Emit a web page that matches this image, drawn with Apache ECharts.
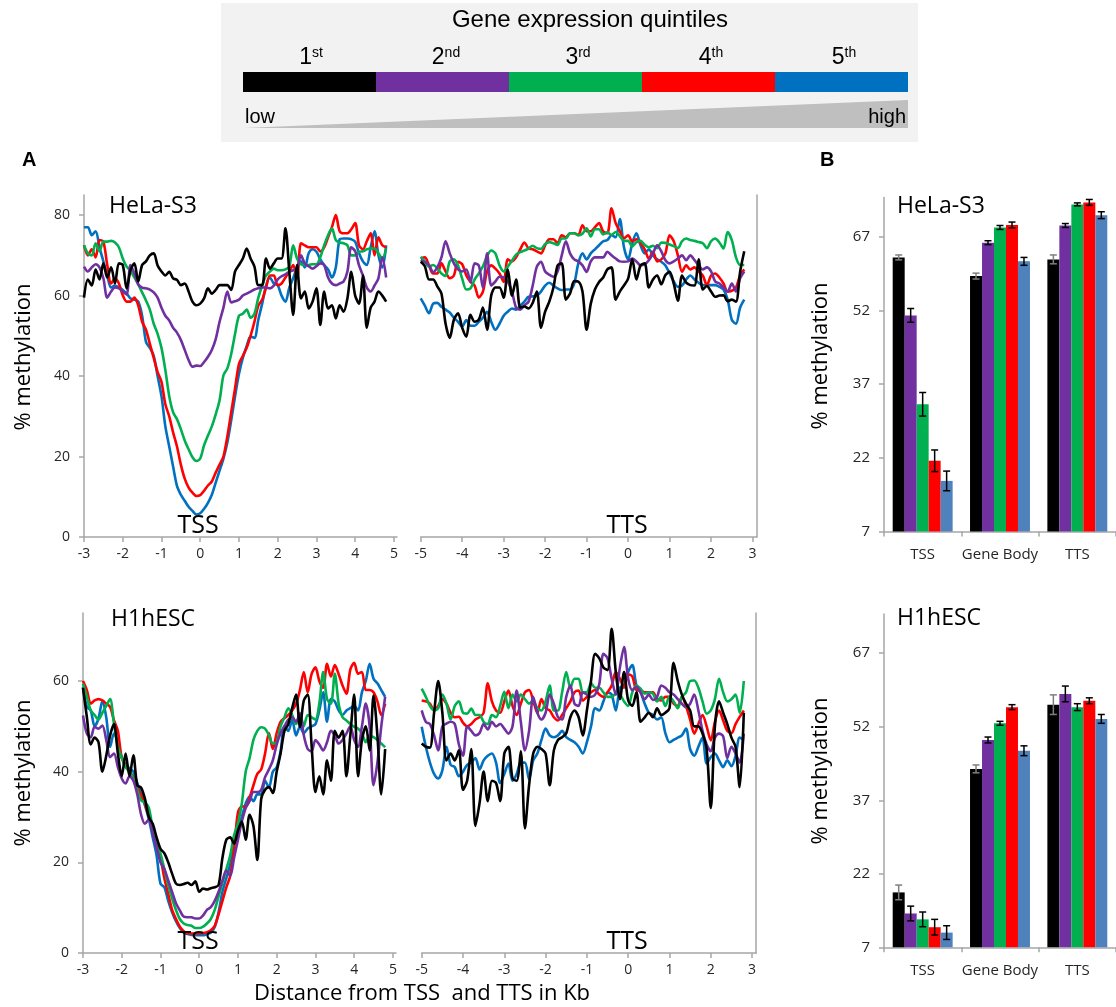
<!DOCTYPE html>
<html>
<head>
<meta charset="utf-8">
<script src="https://cdn.jsdelivr.net/npm/echarts@6/dist/echarts.min.js"></script>
<style>
  html, body { margin: 0; padding: 0; background: #fff; }
  #chart { width: 1116px; height: 1007px; }
</style>
</head>
<body>
<div id="chart"></div>
<script>
// quintile colours (1st .. 5th)
const lineColors = ['#000000', '#7030A0', '#00B050', '#FF0000', '#0070C0'];
const barColors = ['#000000', '#7030A0', '#00B050', '#FF0000', '#4F81BD'];

// sampling positions (kb), 0.1 kb apart
const tssX = [];
for (let i = 0; i < 79; i++) tssX.push(Math.round((-3 + i * 0.1) * 10) / 10);
const ttsX = [];
for (let i = 0; i < 79; i++) ttsX.push(Math.round((-5 + i * 0.1) * 10) / 10);

const tssTicks = [-3, -2, -1, 0, 1, 2, 3, 4, 5];
const ttsTicks = [-5, -4, -3, -2, -1, 0, 1, 2, 3];
const helaTicks = [0, 20, 40, 60, 80];
const h1Ticks = [0, 20, 40, 60];
const barTicks = [7, 22, 37, 52, 67];
const barCategories = ['TSS', 'Gene Body', 'TTS'];

// ---- HeLa-S3, around TSS ----
const helaTssBlack = [59.5,64,62.5,66.5,64,68,64.5,67,63,68, 67.6,61.8,66.3,68,63.5,67.6,68.5,70,70.5,67.5, 66,65,65.9,64.3,63.9,62.6,63,61,58.5,57.6, 58,59.3,61.8,60.5,61.4,62.6,62.6,62.6,61.4,66, 67.6,69.2,71.7,69.2,67.2,62.6,62.6,69.2,66.7,68, 69.2,69.2,76.7,65.9,55.2,67.6,59.3,61,56.8,58.5, 61.8,52.7,61,56.8,57.6,54.3,57.6,56,59.3,65.9, 60,58,65,52,57,58.5,61,60,58.5];
const helaTssPurple = [67.2,66,67,67.8,67,64.3,59.5,61,62,61.8, 61,60.3,67.6,65.5,62.8,62,61.8,61.5,60.8,59.5, 57,55,53.8,52,50.8,49,46.5,44,42.3,42.6, 42.5,43.5,44.8,46.5,49.2,53.5,57,61,58.3,58.6, 59,60,60.5,61,61.5,61.8,62,62,61.8,62.5, 64,64.8,65.3,65.9,66.3,66.7,70,68,67.3,66.7, 67.3,68,67.6,64.5,63,62.6,63,63.5,66,72, 71,67.5,65,62,61,62.5,64.3,69.5,64.5];
const helaTssGreen = [72.5,70.5,70,73,71,73.4,73.4,73.6,73.2,72, 69.2,67.2,66.2,64.5,62.8,60.8,58.8,56.5,53,50.5, 47,41.5,35,31,29.3,26.8,24,21.8,19.8,18.9, 19.5,22.8,25.2,27.5,30.5,34,40.2,41.9,45.5,50.5, 55,55.5,56.5,54.5,55.5,59.5,62.5,65,66,66.7, 66.3,66.3,66.5,67.2,72.5,69.2,67.8,67.6,67.6,67.8, 67.8,69.5,72.5,75,76.7,73.8,73.2,73,72.5,70, 70,70.9,71,71.5,71.7,71.7,70.5,69.2,71.7];
const helaTssRed = [72.5,70,71.5,69.5,73.8,73.4,67.6,63,64.3,63, 60.1,58.5,58.5,59.5,57.6,53.5,51.5,48,44.5,41, 38.6,33,30,26,22.5,18,14.5,12.3,11,10.2, 10.4,11.5,12.8,13.8,16,18,20,25,31,37, 43,45,47,50,53.5,57.5,59,62,65,65, 62.6,63,64.5,66,67.6,64.3,73,72.5,72,72, 72,71,72,74.5,77,80,76,75.5,75.5,76.5, 78,72.5,71.5,73.5,75.5,70,74.5,72.5,72];
const helaTssBlue = [77,77,75,76,72,68.5,65,62,62.5,62, 61.4,60.5,59.3,59,58.5,55,48.5,47,45,40, 35,27.5,22.5,17.5,12.7,10.5,9,7.5,6.5,5.6, 5.9,7,8.5,10.5,13.5,16.5,19.5,23.5,29,35, 40.5,44.5,47.5,49.8,49.5,54,58,62.5,64.5,63, 62.6,60,58.5,62,64.3,67,68.5,67,70.5,71.5, 70.9,69,67.6,66.5,64.5,67,74,74.2,74.2,74, 73.4,70.5,68.5,67.6,72,76,70,67,72.5];

// ---- HeLa-S3, around TTS ----
const helaTtsBlack = [68.4,67.3,64,64,62.3,60.5,53,49.5,54,55.6, 52,49.8,55.2,53.5,54,57,51.5,60,62,62, 59.5,66.5,60,64,57,57.3,56.8,58.2,61,52, 56,58.5,62,67.5,68,59,60.5,63.6,63.5,61, 51.5,58,61.5,63.4,64.5,66.5,67,59,61,62.5, 64.2,69,64,67.5,68,62,64,65,62.8,65.1, 65.9,63,58.7,65,63.2,62.6,62.5,69,61.5,62.4, 61,59.7,60,60.1,58.6,59,58.5,65.9,71];
const helaTtsPurple = [68.8,68.3,67.6,65.8,67,69.5,73.5,70.5,68,66.5, 66,66.5,63.4,68,67.5,62,70.5,62.5,63.5,64.7, 64.5,63.5,61,57,56.5,57.6,58.5,62.5,67.2,68.4, 66,65.2,64.7,66,70,73.5,70.5,69,68.5,67.5, 65.9,68.5,69.5,69.5,69.5,70.9,70,69.2,68.5,68.4, 68.5,69.2,68.5,67.5,67.8,68.8,70.5,72.5,71,68.8, 68,68.5,69.2,70,68.8,70,68.8,67.5,66.5,67, 66,63.5,63,62,61,63,61,64.3,66];
const helaTtsGreen = [69.6,68.5,67.2,67.6,66.8,65.5,64.9,68.5,69,67.5, 64.2,61.5,61.8,64,65.5,67.3,69.8,71.2,70.5,67.5, 66,67.2,68.7,70.2,70.8,71.2,71.7,72.4,71.8,71.6, 72.8,73.3,73,72.6,74.2,74.2,75.5,75.5,75,75.4, 76.7,74.7,76.5,76.5,75.2,75.7,75.1,75.8,74.8,73.6, 73.6,72.2,73.3,73.6,72.6,72,72.4,71.8,73.2,73.1, 72.7,72.3,71.8,73.5,74.2,73.8,73.6,73.3,73,71.8, 73.5,74.2,73.2,71.7,75.8,73.8,69.5,67.6,67.6];
const helaTtsRed = [69.2,69.5,67.5,65.5,65.5,68,66,64.3,65,68.4, 67.8,65,63.4,62.5,59.5,61,66,67.5,66.7,65.5, 63.4,69,68.5,69.5,71.5,73.2,71.7,71.5,71,70.5, 72.5,74,74,73,75,74.5,75.5,75.5,75,77.5, 76,76,77,78,75.9,75.5,81.7,78,76,74.2, 75,73.5,74,73,71.5,69.2,70.9,68.5,69,70.5, 75,73.5,70,65.9,67.5,66.5,67,66,65,62.6, 65,65.5,64.5,63,61,61.2,62,65,66.5];
const helaTtsBlue = [59.3,57.5,55.6,58,58.2,57.2,56.5,55.8,54.5,53.5, 52.3,53.9,52.5,52.5,53.5,54.5,56,53.5,51.5,53, 55,56,56.8,56.5,57.5,58.5,59.7,59.8,60,61, 62.5,63.2,62.5,61.8,61.4,61.5,61.5,63,68,70.5, 69,70.5,71.5,72.5,73.5,73.8,75,74.5,79,72, 69,73,75.5,72.5,70.5,71.5,70,69,68.4,67.5, 65.5,63.5,62.2,62.5,64,65,64,63.2,62.6,62.6, 62.6,62.6,62.2,61.5,59,54,53,57,59];

// ---- H1hESC, around TSS ----
const h1TssBlack = [58.5,52,46,47.5,46.5,40,43.5,48,50.5,44, 39,44,39,43.6,37,36.5,34,30,28.5,25.5, 23,22,20,17.5,15.3,15,15.2,15.5,15,15.8, 13.5,14.2,14,14.3,14.5,15,21,25,25.5,24.1, 27,29,25,30.5,28,20.5,34,36,36.6,35.3, 40,44,49,50.5,54,57,49.9,55.7,57,46, 35.5,39,35,42.5,38,49,47.5,49,39,48, 57,39,47,50,44.7,56.8,48,35,45];
const h1TssPurple = [52.4,48.4,47.6,49.9,49.5,50.2,47,43.2,44,41, 38.5,37.4,39,38,35,30.5,28.5,29.5,26.3,23.4, 20,18.5,16,13.5,11,9.4,8,7.9,7.9,7.6, 7.6,8.3,9.5,10.1,11.5,13.5,16,18.2,17,21, 25,29,32,33.5,35.5,35.5,36,38.8,40.5,42.5, 46,48.5,50,51.5,52,51,52.8,48,45,44.5, 47,46,44.7,46.5,49,48,46.2,47,48.4,50, 47,45.5,50,55,50,37,42,50,56.5];
const h1TssGreen = [59.4,56.5,53.5,52.5,51.5,53,54.5,56,50.5,45.5, 43,41,40,38.5,36,33.7,33.2,32,27.5,24.5, 22,18.5,15,12,9.5,7.5,6.5,6.2,6,5.5, 5.5,5.8,6.5,7.5,9.5,12.5,15.5,18.5,21.5,26, 28.5,33,40,43,47,49,49.8,49.5,48,46.2, 46.5,50,52,54,52.5,50.5,52.8,50,52.5,52, 51.5,55,62,56,55,61.6,55,52,51.3,50.5, 49.9,49.5,48.5,46.5,48,47.6,47,46.2,45.4];
const h1TssRed = [60,58,55,55.7,56,55.7,55,54.3,51.3,49, 43,41.5,40,38.8,36.5,34.8,32.9,30,27.5,23.5, 21,16.5,13,9.5,7.5,5.8,4.8,4.3,4.3,4.3, 4.3,4.4,4.6,5,6,8.5,11.5,14.5,17,23, 31,32.3,32.3,34.3,37,39.5,40.5,44,48.5,45, 48.5,51,51.8,52.5,53.5,55,58,62,57.5,61.5, 63,60,58.5,63.8,61,63.5,61.5,59,57.2,62.5, 64,61.6,62,58,58,57.5,55.5,52.5,55];
const h1TssBlue = [58.7,54.3,53.5,50,51.7,55.5,52,45.5,48.4,46.5, 43.2,41.5,40.8,40,37.5,35.1,32.5,29.5,25.5,21.5, 15.3,14.5,11.5,9,7,5.5,4.5,4.2,4,3.9, 3.9,3.9,4.2,4.5,5.7,9,13.5,16.5,19.5,24, 27.5,30,33,34.5,33.5,35,35,38,36.5,40, 41,44.5,50,49,51.5,48,49.9,48.5,49.5,50, 50.5,53.5,57.5,51,56,55.5,53.5,52.5,53.5,54, 54.5,53.5,57.5,60,63.8,60.5,59.5,58,56.5];

// ---- H1hESC, around TTS ----
const h1TtsBlack = [46.2,45.5,45.3,53,60,53,42.5,44,42.5,44.7, 36,38,45,28,33,40,33.5,38,37.5,33.5, 44,45.5,38.5,38,44.5,27.5,37,44,45.5,45, 44,37,44.7,47,47.6,48.5,52,53.5,52,48, 53.5,60,66,65,63,62.4,71.5,62,56,62, 55.7,54.5,57.5,51,52,53,52,54,52.5,53, 54,64,60,57,55,53.5,50,50,48.4,45, 32,50,55.5,53,50.5,47.5,45.5,36.6,53];
const h1TtsPurple = [53.5,51,50.5,48,44.7,50,50.6,51,50.5,46, 43.5,50,49,48,48.5,50.5,49.3,51,50,50.5, 49.5,48.4,50,57.9,51,44.7,49,56.5,53,51.5, 53,57,55,52,51.5,56.5,59,55,54.5,57.5, 57,56.5,57,59.3,66,65,60.5,57,63,67.5, 60.5,58,58.7,57.5,56,57,55.8,56.5,59,58.5, 57.5,57,56,55,54.2,55,57,53.5,49,46, 44.5,47.5,48.4,47.8,43,45.5,44,42,48.4];
const h1TtsGreen = [58.3,56.5,54.5,53.5,54,57,55,51.5,54.5,55.5, 53,52.8,53.9,52.5,52.5,51,50.5,52.5,52,54.5, 57.6,54,57,55.5,57,56,55,55.7,54,53.5, 55.5,59,53.5,53.5,57.5,62,58.5,60.5,60.5,57.5, 57.5,59.5,58.5,58.5,57.5,56.5,56.5,57.2,57,55.5, 54.5,57.5,59,58.3,57.2,57.5,57.2,55.5,56.5,54.5, 56.5,55.5,54,56.5,57.5,60,60.1,58.5,55.5,52.8, 53.5,56,60.5,57.5,55.5,56,57,53,60];
const h1TtsRed = [55.7,55.5,55,53.5,54.5,56,55,53,52,52.1, 50.8,50,50.5,51.5,52,53,59.5,55.5,53.5,53, 55.5,57.9,54.5,52.5,55,57.5,58,55.7,53,56, 54,53.5,52,51.3,52.5,54,55.5,57.5,57.9,55.7, 56.5,57.5,58,57,56.5,57.5,59,62,60.5,58.5, 61.5,61,58,57.9,57.5,57.5,57.5,56,55.7,56.5, 56.5,55,54.5,56.5,54.5,51.5,48.4,50.5,52.5,50, 46.9,51,53.5,51.3,49,48.5,50.5,52.1,53.5];
const h1TtsBlue = [49.9,45.5,42,39.5,38.5,40.3,45.5,41.5,41,39, 40,41.5,42,43,40.5,42.5,43.5,44,42,37.5, 39.5,41.8,38,39.5,42,42,38.3,42.5,44,47, 49.5,48,47.6,48,49,47.6,47,46.5,45.5,44, 46.5,50,54,53.5,55.5,57.5,57,53.5,58.5,59, 62,63.5,59,57.5,55,53,52.5,51.5,52,48.5, 46.5,47,47.5,48,49.5,45,43.5,45.5,47.5,41.8, 43.2,44,42.5,41,42.5,41.2,43.5,47.5,47];

// ---- panel B: mean % methylation per region (TSS, Gene Body, TTS) ----
const helaBar1 = [62.8, 59.0, 62.4];
const helaBar2 = [51.0, 65.8, 69.3];
const helaBar3 = [32.9, 68.9, 73.6];
const helaBar4 = [21.4, 69.4, 74.0];
const helaBar5 = [17.3, 62.0, 71.4];
const helaErr1 = [0.5, 0.6, 0.9];
const helaErr2 = [1.4, 0.4, 0.4];
const helaErr3 = [2.4, 0.4, 0.3];
const helaErr4 = [2.2, 0.6, 0.6];
const helaErr5 = [2.0, 0.8, 0.7];

const h1Bar1 = [18.2, 43.4, 56.5];
const h1Bar2 = [13.9, 49.3, 58.7];
const h1Bar3 = [12.7, 52.7, 56.0];
const h1Bar4 = [11.1, 56.0, 57.3];
const h1Bar5 = [10.0, 47.1, 53.6];
const h1Err1 = [1.5, 0.8, 2.0];
const h1Err2 = [1.5, 0.6, 1.6];
const h1Err3 = [1.5, 0.4, 0.7];
const h1Err4 = [1.6, 0.5, 0.6];
const h1Err5 = [1.4, 1.0, 0.9];

const F = '"Open Sans", "Noto Sans", sans-serif';
const FA = '"Liberation Sans", Arial, sans-serif';
const axisGray = '#a6a6a6';
const labelColor = '#262626';

const chart = echarts.init(document.getElementById('chart'));

function xLine(g, min, max, ticks) {
    return {
        type: 'value', gridIndex: g, min: min, max: max,
        axisLine: { show: true, onZero: false, lineStyle: { color: axisGray, width: 1.5 } },
        axisTick: { show: true, length: 5, customValues: ticks, lineStyle: { color: axisGray, width: 1.5 } },
        axisLabel: { customValues: ticks, fontSize: 14, fontFamily: F, color: labelColor, margin: 10 },
        splitLine: { show: false }
    };
}
function yLine(g, max, ticks, right) {
    return {
        type: 'value', gridIndex: g, min: 0, max: max, position: right ? 'right' : 'left',
        axisLine: { show: true, onZero: false, lineStyle: { color: axisGray, width: 1.5 } },
        axisTick: { show: !right, length: 5, customValues: ticks, lineStyle: { color: axisGray, width: 1.5 } },
        axisLabel: { show: !right, customValues: ticks, fontSize: 14, fontFamily: F, color: labelColor, margin: 14 },
        splitLine: { show: false }
    };
}
function xBar(g) {
    return {
        type: 'category', gridIndex: g, data: barCategories,
        axisLine: { show: true, lineStyle: { color: axisGray, width: 1.5 } },
        axisTick: { show: true, length: 5, alignWithLabel: false, lineStyle: { color: axisGray, width: 1.5 } },
        axisLabel: { interval: 0, fontSize: 15, fontFamily: F, color: labelColor, margin: 16 }
    };
}
function yBar(g) {
    return {
        type: 'value', gridIndex: g, min: 7, max: 75,
        axisLine: { show: true, lineStyle: { color: axisGray, width: 1.5 } },
        axisTick: { show: true, length: 5, customValues: barTicks, lineStyle: { color: axisGray, width: 1.5 } },
        axisLabel: { customValues: barTicks, fontSize: 15, fontFamily: F, color: labelColor, margin: 14 },
        splitLine: { show: false }
    };
}

function lines(g, xs, sets) {
    // draw 5th first so the 1st (black) ends on top
    const out = [];
    for (let k = 4; k >= 0; k--) {
        out.push({
            type: 'line', xAxisIndex: g, yAxisIndex: g,
            data: xs.map((x, i) => [x, sets[k][i]]),
            showSymbol: false, smooth: 0.3, silent: true,
            lineStyle: { color: lineColors[k], width: 2.6 },
            itemStyle: { color: lineColors[k] }
        });
    }
    return out;
}

function bars(g, vals, errs) {
    const out = [];
    vals.forEach((v, k) => {
        out.push({
            type: 'bar', xAxisIndex: g, yAxisIndex: g, data: v,
            barGap: '0%', barCategoryGap: '22.5%', silent: true,
            itemStyle: { color: barColors[k] }
        });
    });
    const errData = [];
    vals.forEach((v, k) => v.forEach((val, c) => errData.push([c, k, val, errs[k][c]])));
    out.push({
        type: 'custom', xAxisIndex: g, yAxisIndex: g, data: errData, silent: true, z: 5,
        encode: { x: 0, y: 2 },
        renderItem: function (params, api) {
            const c = api.value(0), k = api.value(1), v = api.value(2), e = api.value(3);
            const center = api.coord([c, v]);
            const catW = api.size([1, 0])[0];
            const bw = catW * 0.775 / 5;
            const x = center[0] + (k - 2) * bw;
            const top = api.coord([c, v + e])[1];
            const bot = api.coord([c, v - e])[1];
            const col = k === 0 ? '#7f7f7f' : '#000';
            const st = { stroke: col, lineWidth: 1.5 };
            return {
                type: 'group', children: [
                    { type: 'line', shape: { x1: x, y1: top, x2: x, y2: bot }, style: st },
                    { type: 'line', shape: { x1: x - 3.5, y1: top, x2: x + 3.5, y2: top }, style: st },
                    { type: 'line', shape: { x1: x - 3.5, y1: bot, x2: x + 3.5, y2: bot }, style: st }
                ]
            };
        }
    });
    return out;
}

function txt(x, y, text, size, opts) {
    opts = opts || {};
    return {
        type: 'text', x: x, y: y, rotation: opts.rotation || 0, z: 100,
        style: {
            text: text, fontSize: size, fontFamily: opts.family || F, fontWeight: opts.weight || 'normal',
            fill: opts.color || '#000', align: opts.align || 'left', verticalAlign: 'middle'
        }
    };
}
function sup(x, n, s) {
    return {
        type: 'text', x: x, y: 58, z: 100,
        style: {
            text: '{n|' + n + '}{s|' + s + '}', fill: '#000', align: 'center', verticalAlign: 'middle',
            rich: {
                n: { fontSize: 23, fontFamily: FA, fill: '#000' },
                s: { fontSize: 14, fontFamily: FA, fill: '#000', verticalAlign: 'top' }
            }
        }
    };
}

const legendBar = [];
const segX = [243, 376, 509, 642, 775];
segX.forEach((x, k) => {
    legendBar.push({ type: 'rect', shape: { x: x, y: 72, width: 133, height: 20 }, style: { fill: lineColors[k] }, z: 99 });
});

const option = {
    backgroundColor: '#fff',
    animation: false,
    grid: [
        { left: 84, top: 195, width: 313, height: 342 },
        { left: 420.7, top: 195, width: 336, height: 342 },
        { left: 884, top: 197.5, width: 245, height: 334 },
        { left: 83, top: 613, width: 313, height: 340 },
        { left: 421.7, top: 613, width: 334.5, height: 340 },
        { left: 884, top: 614, width: 245, height: 333.3 }
    ],
    xAxis: [
        xLine(0, -3, 5.08, tssTicks),
        xLine(1, -5, 3.1, ttsTicks),
        xBar(2),
        xLine(3, -3, 5.08, tssTicks),
        xLine(4, -5, 3.1, ttsTicks),
        xBar(5)
    ],
    yAxis: [
        yLine(0, 85, helaTicks, false),
        yLine(1, 85, helaTicks, true),
        yBar(2),
        yLine(3, 75, h1Ticks, false),
        yLine(4, 75, h1Ticks, true),
        yBar(5)
    ],
    series: [].concat(
        lines(0, tssX, [helaTssBlack, helaTssPurple, helaTssGreen, helaTssRed, helaTssBlue]),
        lines(1, ttsX, [helaTtsBlack, helaTtsPurple, helaTtsGreen, helaTtsRed, helaTtsBlue]),
        bars(2, [helaBar1, helaBar2, helaBar3, helaBar4, helaBar5], [helaErr1, helaErr2, helaErr3, helaErr4, helaErr5]),
        lines(3, tssX, [h1TssBlack, h1TssPurple, h1TssGreen, h1TssRed, h1TssBlue]),
        lines(4, ttsX, [h1TtsBlack, h1TtsPurple, h1TtsGreen, h1TtsRed, h1TtsBlue]),
        bars(5, [h1Bar1, h1Bar2, h1Bar3, h1Bar4, h1Bar5], [h1Err1, h1Err2, h1Err3, h1Err4, h1Err5])
    ),
    graphic: {
        elements: [
            // legend box
            { type: 'rect', shape: { x: 221, y: 3, width: 697, height: 139 }, style: { fill: '#f2f2f2' }, z: 98 },
            txt(590, 20, 'Gene expression quintiles', 24, { family: FA, align: 'center' }),
            sup(311, '1', 'st'), sup(446, '2', 'nd'), sup(578, '3', 'rd'), sup(711, '4', 'th'), sup(844, '5', 'th'),
            { type: 'polygon', shape: { points: [[244, 128], [908, 100], [908, 128]] }, style: { fill: '#bfbfbf' }, z: 99 },
            txt(245, 117, 'low', 20, { family: FA }),
            txt(906, 117, 'high', 20, { family: FA, align: 'right' }),
            // panel letters
            txt(22, 160, 'A', 20, { family: FA, weight: 'bold' }),
            txt(820, 160, 'B', 20, { family: FA, weight: 'bold' }),
            // cell line names
            txt(109, 206, 'HeLa-S3', 23),
            txt(897, 206, 'HeLa-S3', 23),
            txt(111, 619, 'H1hESC', 23),
            txt(897, 618, 'H1hESC', 23),
            // y titles
            txt(24, 357, '% methylation', 22, { align: 'center', rotation: Math.PI / 2 }),
            txt(24, 773, '% methylation', 22, { align: 'center', rotation: Math.PI / 2 }),
            txt(821, 356, '% methylation', 22, { align: 'center', rotation: Math.PI / 2 }),
            txt(821, 771, '% methylation', 22, { align: 'center', rotation: Math.PI / 2 }),
            // site markers
            txt(198, 526, 'TSS', 25, { align: 'center' }),
            txt(627, 526, 'TTS', 25, { align: 'center' }),
            txt(198, 942, 'TSS', 25, { align: 'center' }),
            txt(627, 942, 'TTS', 25, { align: 'center' }),
            txt(422, 994, 'Distance from TSS  and TTS in Kb', 22, { align: 'center' })
        ].concat(legendBar)
    }
};

chart.setOption(option);
</script>
</body>
</html>
